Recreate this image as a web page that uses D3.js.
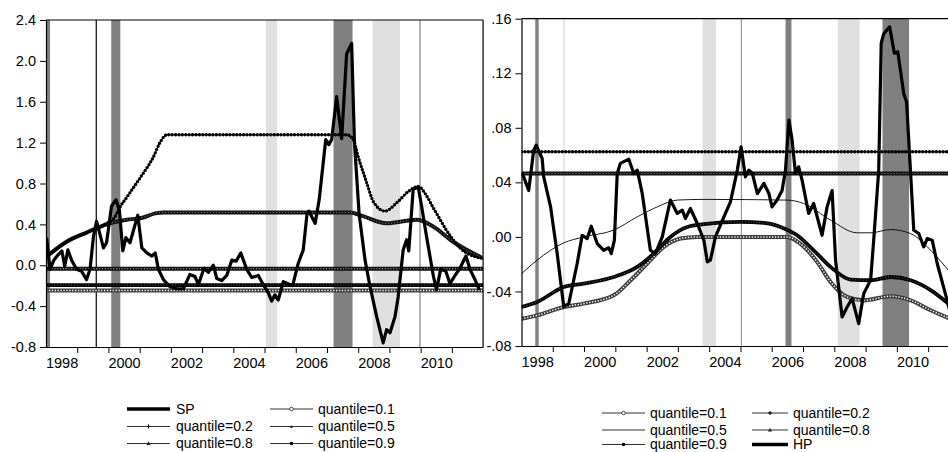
<!DOCTYPE html>
<html>
<head>
<meta charset="utf-8">
<script src="https://cdn.jsdelivr.net/npm/d3@7/dist/d3.min.js"></script>
<style>
  body { margin: 0; background: #fff; }
  svg text { font-family: "Liberation Sans", Arial, sans-serif; font-size: 14.5px; fill: #000; }
  svg .legend text { font-size: 14px; }
</style>
</head>
<body>
<svg id="chart" width="948" height="452"></svg>
<script>
// ---- data (decimal year, value) ----
const yearTicks = d3.range(1999, 2012);
const yearLabels = [1998, 2000, 2002, 2004, 2006, 2008, 2010];
const leftTicks = [-0.8, -0.4, 0, 0.4, 0.8, 1.2, 1.6, 2.0, 2.4];
const rightTicks = [-0.08, -0.04, 0, 0.04, 0.08, 0.12, 0.16];

const sp = [[1998.02,0.27],[1998.13,-0.04],[1998.25,0.05],[1998.38,0.10],[1998.51,0.14],[1998.60,-0.01],
  [1998.70,0.15],[1998.82,0.05],[1998.98,-0.04],[1999.14,-0.06],[1999.30,-0.14],[1999.41,-0.04],
  [1999.52,0.28],[1999.62,0.43],[1999.73,0.30],[1999.84,0.17],[1999.94,0.22],[2000.10,0.58],
  [2000.24,0.64],[2000.35,0.54],[2000.46,0.14],[2000.56,0.27],[2000.69,0.22],[2000.80,0.34],
  [2000.94,0.49],[2001.07,0.17],[2001.23,0.12],[2001.39,0.09],[2001.50,0.12],[2001.60,-0.04],
  [2001.76,-0.14],[2001.97,-0.21],[2002.19,-0.23],[2002.40,-0.23],[2002.61,-0.09],[2002.77,-0.11],
  [2002.88,-0.19],[2003.06,-0.03],[2003.20,-0.07],[2003.36,0.0],[2003.47,-0.13],[2003.63,-0.15],
  [2003.79,-0.10],[2003.95,0.05],[2004.09,0.04],[2004.24,0.12],[2004.43,-0.04],[2004.59,-0.12],
  [2004.80,-0.10],[2004.96,-0.19],[2005.12,-0.27],[2005.23,-0.35],[2005.33,-0.29],[2005.44,-0.34],
  [2005.60,-0.16],[2005.75,-0.18],[2005.90,-0.20],[2006.08,0.02],[2006.24,0.15],[2006.36,0.50],
  [2006.42,0.53],[2006.62,0.41],[2006.75,0.64],[2006.96,1.23],[2007.06,1.18],[2007.15,1.23],
  [2007.31,1.65],[2007.47,1.24],[2007.63,2.07],[2007.79,2.17],[2007.88,1.2],[2008.03,0.5],
  [2008.22,0.05],[2008.38,-0.21],[2008.59,-0.50],[2008.80,-0.76],[2008.91,-0.63],[2009.02,-0.66],
  [2009.18,-0.50],[2009.28,-0.31],[2009.44,0.15],[2009.55,0.25],[2009.62,0.14],[2009.76,0.74],
  [2009.92,0.77],[2010.03,0.58],[2010.19,0.28],[2010.41,-0.11],[2010.51,-0.24],[2010.64,-0.04],
  [2010.81,-0.06],[2010.94,-0.18],[2011.10,-0.10],[2011.26,-0.03],[2011.45,0.09],[2011.58,-0.04],
  [2011.74,-0.14],[2011.88,-0.24]];

const spQ1 = [[1998,-0.246],[2012,-0.246]];
const spQ2 = [[1998,-0.194],[2012,-0.194]];
const spQ5 = [[1998,-0.034],[2012,-0.034]];
const spQ8 = [[1998.0,0.08],[1998.66,0.23],[1999.30,0.32],[1999.94,0.40],[2000.58,0.445],[2001.01,0.46],
  [2001.55,0.51],[2001.76,0.517],[2007.74,0.517],[2008.15,0.48],[2008.91,0.41],[2009.87,0.445],
  [2010.40,0.38],[2011.04,0.23],[2011.95,0.075]];
const spQ9 = [[1998.0,0.08],[1998.66,0.23],[1999.30,0.32],[1999.94,0.41],[2000.2,0.47],[2000.35,0.56],
  [2000.6,0.67],[2000.8,0.76],[2001.07,0.88],[2001.44,1.06],[2001.65,1.20],[2001.87,1.277],
  [2007.63,1.277],[2007.84,1.23],[2008.0,1.06],[2008.17,0.90],[2008.28,0.80],[2008.49,0.62],
  [2008.86,0.53],[2009.23,0.61],[2009.6,0.72],[2009.92,0.77],[2010.19,0.68],[2010.39,0.57],
  [2010.62,0.45],[2010.81,0.35],[2011.04,0.25],[2011.26,0.17],[2011.47,0.12],[2011.68,0.09],[2011.95,0.07]];

const hp = [[1998.02,0.0465],[1998.07,0.044],[1998.23,0.034],[1998.39,0.0636],[1998.47,0.0673],
  [1998.66,0.0575],[1998.71,0.044],[1998.93,0.022],[1999.14,-0.0122],[1999.35,-0.051],[1999.51,-0.049],
  [1999.78,-0.0195],[1999.94,0.0012],[2000.10,-0.0012],[2000.23,0.0078],[2000.42,-0.0049],
  [2000.63,-0.0098],[2000.79,-0.008],[2000.87,-0.0122],[2000.97,-0.0024],[2001.06,0.0465],
  [2001.16,0.0539],[2001.43,0.057],[2001.59,0.0465],[2001.70,0.049],[2001.86,0.0318],[2002.12,-0.0098],
  [2002.28,-0.0122],[2002.50,0],[2002.76,0.027],[2002.98,0.0172],[2003.14,0.0196],[2003.24,0.0135],
  [2003.40,0.0208],[2003.62,0.0098],[2003.83,-0.0024],[2003.94,-0.0183],[2004.04,-0.017],[2004.20,0],
  [2004.47,0.0147],[2004.68,0.0257],[2004.90,0.049],[2005.02,0.066],[2005.16,0.044],[2005.27,0.049],
  [2005.38,0.0465],[2005.54,0.0318],[2005.75,0.0392],[2005.91,0.0318],[2006.01,0.022],[2006.17,0.027],
  [2006.33,0.034],[2006.44,0.049],[2006.55,0.0857],[2006.65,0.071],[2006.76,0.0465],[2006.86,0.0514],
  [2006.97,0.0416],[2007.18,0.0172],[2007.34,0.0245],[2007.61,0.0012],[2007.77,0.022],[2007.93,0.034],
  [2008.04,-0.017],[2008.25,-0.0587],[2008.41,-0.0514],[2008.57,-0.0452],[2008.78,-0.0636],
  [2008.94,-0.0416],[2009.16,-0.0318],[2009.26,-0.0024],[2009.42,0.049],[2009.50,0.142],[2009.58,0.149],
  [2009.77,0.154],[2009.92,0.1346],[2010.03,0.1358],[2010.22,0.105],[2010.31,0.099],[2010.44,0.0465],
  [2010.54,0.005],[2010.70,0.0025],[2010.86,-0.0073],[2010.97,-0.0012],[2011.13,-0.0024],
  [2011.29,-0.0195],[2011.55,-0.0416],[2011.70,-0.055]];

const hpQ1 = [[1998.0,-0.060],[1998.50,-0.0575],[1999.35,-0.0514],[1999.99,-0.0489],[2000.95,-0.0428],
  [2001.49,-0.0318],[2002.02,-0.0195],[2002.55,-0.0073],[2003.09,-0.0012],[2003.62,0],[2006.49,0],
  [2006.91,-0.0049],[2007.45,-0.0183],[2007.88,-0.033],[2008.41,-0.044],[2008.94,-0.0465],
  [2009.80,-0.0435],[2010.44,-0.0465],[2011.08,-0.0538],[2011.70,-0.0600]];
const hpQ2 = [[1998.0,-0.0514],[1998.50,-0.0477],[1999.35,-0.0367],[1999.99,-0.0342],[2000.95,-0.0294],
  [2001.70,-0.022],[2002.23,-0.0122],[2002.76,0],[2003.30,0.0073],[2003.83,0.0093],[2005.00,0.011],
  [2005.75,0.0103],[2006.28,0.0073],[2006.81,0.0012],[2007.34,-0.0098],[2007.88,-0.022],
  [2008.52,-0.0313],[2009.16,-0.0318],[2009.80,-0.0294],[2010.44,-0.0318],[2011.08,-0.039],[2011.70,-0.050]];
const hpQ5 = [[1998.0,-0.027],[1998.50,-0.017],[1999.35,-0.0044],[1999.99,0.000],[2000.95,0.005],
  [2001.70,0.0147],[2002.34,0.022],[2002.98,0.027],[2003.83,0.0275],[2006.49,0.027],[2007.02,0.0245],
  [2007.88,0.0123],[2008.73,0.003],[2009.16,0.003],[2009.80,0.0054],[2010.44,0.0024],[2011.08,-0.0098],
  [2011.70,-0.026]];
const hpQ8 = [[1998,0.0465],[2012,0.0465]];
const hpQ9 = [[1998,0.0624],[2012,0.0624]];

const leftDark = [[1998.0,1998.13],[2000.09,2000.38],[2007.21,2007.82]];
const leftLight = [[2005.04,2005.40],[2008.46,2009.34]];
const leftRules = [[1999.61,"#000"],[2009.98,"#808080"]];
const rightDark = [[1998.44,1998.55],[2006.44,2006.63],[2009.54,2010.39]];
const rightLight = [[1999.33,1999.38],[2003.79,2004.22],[2008.11,2008.81]];
const rightRules = [[2005.03,"#999"]];

// ---- drawing ----
const svg = d3.select("#chart");

function fmtLeft(v) { return (v < 0 ? "-" : "") + Math.abs(v).toFixed(1); }
function fmtRight(v) { return (v < 0 ? "-" : "") + Math.abs(v).toFixed(2).replace(/^0/, ""); }

// line styles imitating the per-observation markers
function drawSeries(g, data, x, y, kind, curve) {
  const line = d3.line().x(d => x(d[0])).y(d => y(d[1])).curve(curve || d3.curveMonotoneX);
  const p = () => g.append("path").attr("d", line(data)).attr("fill", "none");
  if (kind === "thick") {
    p().attr("stroke", "#000").attr("stroke-width", 3.2).attr("stroke-linejoin", "round");
  } else if (kind === "thin") {
    p().attr("stroke", "#000").attr("stroke-width", 0.9);
  } else if (kind === "circle") {
    p().attr("stroke", "#3a3a3a").attr("stroke-width", 4);
    p().attr("stroke", "#fff").attr("stroke-width", 1.5).attr("stroke-dasharray", "1.3,1.6");
  } else if (kind === "plus") {
    p().attr("stroke", "#000").attr("stroke-width", 3.8);
    p().attr("stroke", "#777").attr("stroke-width", 1).attr("stroke-dasharray", "0.8,2");
  } else if (kind === "diamond") {
    p().attr("stroke", "#111").attr("stroke-width", 4);
    p().attr("stroke", "#999").attr("stroke-width", 1.2).attr("stroke-dasharray", "1,1.8");
  } else if (kind === "tri") {
    p().attr("stroke", "#111").attr("stroke-width", 4);
    p().attr("stroke", "#888").attr("stroke-width", 1).attr("stroke-dasharray", "1,2");
  } else if (kind === "dot") {
    p().attr("stroke", "#000").attr("stroke-width", 1);
    p().attr("stroke", "#000").attr("stroke-width", 3.4).attr("stroke-linecap", "round")
      .attr("stroke-dasharray", "0,3.4");
  }
}

function drawPanel(cfg) {
  const x = d3.scaleLinear().domain([1998, 2012]).range([cfg.left, cfg.left + 14 * cfg.yearW]);
  const y = d3.scaleLinear().domain(cfg.yDomain).range([cfg.bottom, cfg.top]);
  const right = Math.min(cfg.left + 14 * cfg.yearW, 948);

  const clipId = "clip-" + cfg.id;
  svg.append("clipPath").attr("id", clipId).append("rect")
    .attr("x", cfg.left).attr("y", cfg.top).attr("width", right - cfg.left).attr("height", cfg.bottom - cfg.top);

  const plot = svg.append("g").attr("clip-path", `url(#${clipId})`);

  plot.selectAll("rect.dark").data(cfg.dark).join("rect").attr("class", "dark")
    .attr("x", d => x(d[0])).attr("width", d => x(d[1]) - x(d[0]))
    .attr("y", cfg.top).attr("height", cfg.bottom - cfg.top).attr("fill", "#808080");
  plot.selectAll("rect.light").data(cfg.light).join("rect").attr("class", "light")
    .attr("x", d => x(d[0])).attr("width", d => x(d[1]) - x(d[0]))
    .attr("y", cfg.top).attr("height", cfg.bottom - cfg.top).attr("fill", "#e0e0e0");
  plot.selectAll("line.rule").data(cfg.rules).join("line").attr("class", "rule")
    .attr("x1", d => x(d[0])).attr("x2", d => x(d[0]))
    .attr("y1", cfg.top).attr("y2", cfg.bottom).attr("stroke", d => d[1]).attr("stroke-width", 1.2);

  cfg.series.forEach(s => drawSeries(plot, s.data, x, y, s.kind, s.curve));

  // axes
  const yAxis = d3.axisLeft(y).tickValues(cfg.yTicks).tickFormat(cfg.fmt).tickSize(6).tickPadding(4).tickSizeOuter(0);
  const ga = svg.append("g").attr("transform", `translate(${cfg.left},0)`).call(yAxis);
  ga.select(".domain").attr("stroke-width", 1.2);

  const xAxis = d3.axisBottom(x).tickValues(yearTicks).tickFormat("").tickSize(6).tickSizeOuter(0);
  const gx = svg.append("g").attr("transform", `translate(0,${cfg.bottom})`).call(xAxis);
  gx.select(".domain").attr("stroke-width", 1.2);

  const xLab = d3.axisBottom(x).tickValues(yearLabels.map(d => d + 0.5)).tickFormat(d => Math.floor(d))
    .tickSize(0).tickPadding(11);
  const gl = svg.append("g").attr("transform", `translate(0,${cfg.bottom})`).call(xLab);
  gl.select(".domain").remove();

  // frame
  svg.append("line").attr("x1", cfg.left).attr("x2", right).attr("y1", cfg.top).attr("y2", cfg.top)
    .attr("stroke", "#000").attr("stroke-width", 1.2);
  if (cfg.frameRight) {
    svg.append("line").attr("x1", right).attr("x2", right).attr("y1", cfg.top).attr("y2", cfg.bottom)
      .attr("stroke", "#000").attr("stroke-width", 1.2);
  }
}

drawPanel({
  id: "left", left: 46, yearW: 31.22, top: 20, bottom: 347,
  yDomain: [-0.8, 2.4], yTicks: leftTicks, fmt: fmtLeft, frameRight: true,
  dark: leftDark, light: leftLight, rules: leftRules,
  series: [
    { data: spQ1, kind: "circle" },
    { data: spQ2, kind: "plus" },
    { data: spQ5, kind: "diamond" },
    { data: spQ8, kind: "tri" },
    { data: spQ9, kind: "dot" },
    { data: sp, kind: "thick", curve: d3.curveLinear }
  ]
});

drawPanel({
  id: "right", left: 521.5, yearW: 31.28, top: 18.7, bottom: 346,
  yDomain: [-0.08, 0.16], yTicks: rightTicks, fmt: fmtRight, frameRight: false,
  dark: rightDark, light: rightLight, rules: rightRules,
  series: [
    { data: hpQ1, kind: "circle" },
    { data: hpQ2, kind: "plus" },
    { data: hpQ5, kind: "thin" },
    { data: hpQ8, kind: "tri" },
    { data: hpQ9, kind: "dot" },
    { data: hp, kind: "thick", curve: d3.curveLinear }
  ]
});

// ---- legends ----
const leftLegend = [
  { label: "SP", kind: "thick", col: 0, row: 0 },
  { label: "quantile=0.1", kind: "circle", col: 1, row: 0 },
  { label: "quantile=0.2", kind: "plus", col: 0, row: 1 },
  { label: "quantile=0.5", kind: "diamond", col: 1, row: 1 },
  { label: "quantile=0.8", kind: "tri", col: 0, row: 2 },
  { label: "quantile=0.9", kind: "dot", col: 1, row: 2 }
];
const rightLegend = [
  { label: "quantile=0.1", kind: "circle", col: 0, row: 0 },
  { label: "quantile=0.2", kind: "plus", col: 1, row: 0 },
  { label: "quantile=0.5", kind: "none", col: 0, row: 1 },
  { label: "quantile=0.8", kind: "tri", col: 1, row: 1 },
  { label: "quantile=0.9", kind: "dot", col: 0, row: 2 },
  { label: "HP", kind: "thick", col: 1, row: 2 }
];

function drawLegend(items, cols, rows) {
  const g = svg.append("g").attr("class", "legend");
  items.forEach(it => {
    const c = cols[it.col], yy = rows[it.row];
    const mid = (c.x1 + c.x2) / 2;
    g.append("line").attr("x1", c.x1).attr("x2", c.x2).attr("y1", yy).attr("y2", yy)
      .attr("stroke", it.kind === "thick" ? "#000" : "#333")
      .attr("stroke-width", it.kind === "thick" ? 3.6 : 1);
    if (it.kind === "circle") {
      g.append("circle").attr("cx", mid).attr("cy", yy).attr("r", 1.8)
        .attr("fill", "#fff").attr("stroke", "#333").attr("stroke-width", 0.9);
    } else if (it.kind === "plus") {
      g.append("path").attr("d", `M${mid - 2},${yy}H${mid + 2}M${mid},${yy - 2}V${yy + 2}`)
        .attr("stroke", "#000").attr("stroke-width", 1);
    } else if (it.kind === "diamond") {
      g.append("path").attr("d", `M${mid - 2},${yy}L${mid},${yy + 2}L${mid + 2},${yy}L${mid},${yy - 1}Z`)
        .attr("fill", "#222");
    } else if (it.kind === "tri") {
      g.append("path").attr("d", `M${mid - 2.2},${yy + 1.5}L${mid + 2.2},${yy + 1.5}L${mid},${yy - 2}Z`)
        .attr("fill", "#222");
    } else if (it.kind === "dot") {
      g.append("circle").attr("cx", mid).attr("cy", yy).attr("r", 1.8).attr("fill", "#000");
    }
    g.append("text").attr("x", c.tx).attr("y", yy).attr("dy", "0.35em").text(it.label);
  });
}

drawLegend(leftLegend,
  [{ x1: 127, x2: 170, tx: 176 }, { x1: 270, x2: 313, tx: 318 }],
  [409, 426.5, 443.5]);
drawLegend(rightLegend,
  [{ x1: 602, x2: 645, tx: 650 }, { x1: 752, x2: 788, tx: 793 }],
  [413, 430, 444.5]);
</script>
</body>
</html>
